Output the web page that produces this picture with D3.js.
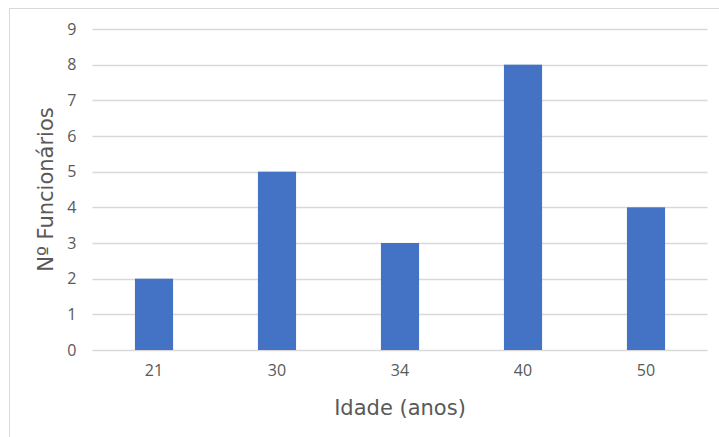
<!DOCTYPE html>
<html>
<head>
<meta charset="utf-8">
<script src="https://cdn.jsdelivr.net/npm/d3@7.9.0/dist/d3.min.js"></script>
<style>
  body { margin: 0; background: #fff; }
  svg { display: block; }
</style>
</head>
<body>
<svg id="chart" width="719" height="437"></svg>
<script>
const ages = ['21', '30', '34', '40', '50'];
const counts = [2, 5, 3, 8, 4];
const yTicks = [0, 1, 2, 3, 4, 5, 6, 7, 8, 9];

const svg = d3.select('#chart');
const margin = { top: 29, right: 12, bottom: 87, left: 92.5 };

// chart frame
svg.append('rect')
  .attr('x', 9.5).attr('y', 8.5)
  .attr('width', 740).attr('height', 460)
  .attr('fill', 'none').attr('stroke', '#d9d9d9');

const g = svg.append('g').attr('transform', `translate(${margin.left},${margin.top})`);

const x = d3.scaleBand().domain(ages).range([0, 615]).paddingInner(0.69).paddingOuter(0.345);
const y = d3.scaleLinear().domain([0, 9]).range([321, 0]);

// gridlines
g.selectAll('line.grid')
  .data(yTicks)
  .join('line')
  .attr('class', 'grid')
  .attr('x1', 0).attr('x2', 615)
  .attr('y1', d => Math.round(y(d)) + 0.5).attr('y2', d => Math.round(y(d)) + 0.5)
  .attr('stroke', '#d9d9d9').attr('stroke-width', 1.3);

// bars
g.selectAll('rect.bar')
  .data(counts)
  .join('rect')
  .attr('class', 'bar')
  .attr('x', (d, i) => x(ages[i]))
  .attr('width', x.bandwidth())
  .attr('y', d => y(d))
  .attr('height', d => y(0) - y(d))
  .attr('fill', '#4472c4');

// y axis
const yAxis = g.append('g')
  .call(d3.axisLeft(y).tickValues(yTicks).tickSize(0).tickPadding(16));
yAxis.select('.domain').remove();

// x axis
const xAxis = g.append('g')
  .attr('transform', `translate(0,${y(0)})`)
  .call(d3.axisBottom(x).tickSize(0).tickPadding(15));
xAxis.select('.domain').remove();

g.selectAll('.tick text')
  .attr('fill', '#595959')
  .style('font-family', '"Open Sans", "Noto Sans", sans-serif')
  .style('font-size', '16px');

// titles
svg.append('text')
  .attr('x', margin.left + 615 / 2)
  .attr('y', 415)
  .attr('text-anchor', 'middle')
  .attr('fill', '#595959')
  .style('font-family', '"DejaVu Sans", Verdana, sans-serif')
  .style('font-size', '21px')
  .text('Idade (anos)');

svg.append('text')
  .attr('transform', `translate(53,${margin.top + 321 / 2}) rotate(-90)`)
  .attr('text-anchor', 'middle')
  .attr('fill', '#595959')
  .style('font-family', '"DejaVu Sans", Verdana, sans-serif')
  .style('font-size', '21px')
  .text('Nº Funcionários');
</script>
</body>
</html>
